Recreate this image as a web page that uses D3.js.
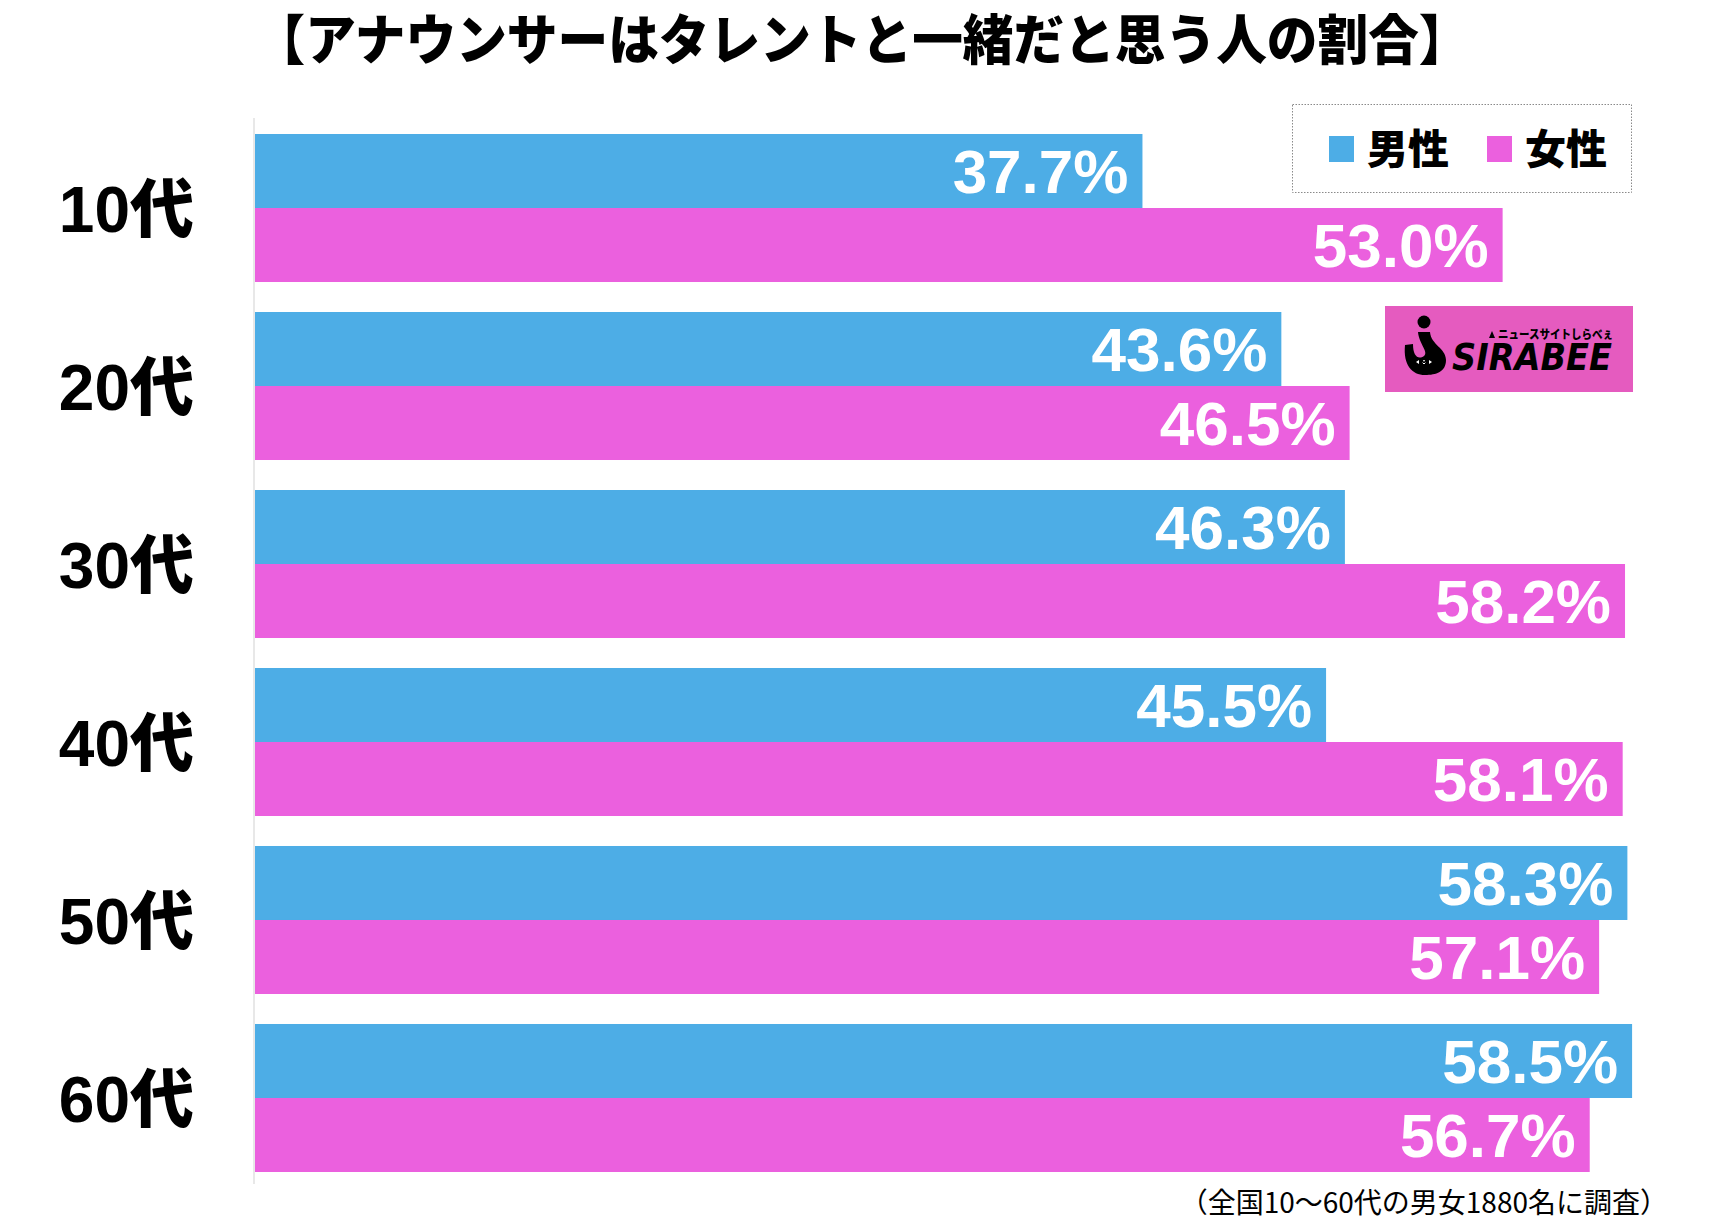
<!DOCTYPE html>
<html>
<head>
<meta charset="utf-8">
<script src="https://cdn.jsdelivr.net/npm/d3@7"></script>
<style>
  html, body { margin: 0; padding: 0; background: #fff; }
  svg { display: block; }
</style>
</head>
<body>
<svg id="chart" width="1716" height="1230"></svg>
<script>
const title = "【アナウンサーはタレントと一緒だと思う人の割合】";
const categories = ["10代", "20代", "30代", "40代", "50代", "60代"];
const seriesNames = ["男性", "女性"];
const male = [37.7, 43.6, 46.3, 45.5, 58.3, 58.5];
const female = [53.0, 46.5, 58.2, 58.1, 57.1, 56.7];
const footnote = "（全国10〜60代の男女1880名に調査）";

const colors = { "男性": "#4DADE6", "女性": "#EB60DE" };
const jp = "'Noto Sans CJK JP', 'Noto Sans', sans-serif";
const mixed = "'Liberation Sans', 'Noto Sans CJK JP', sans-serif";

const rows = categories.map((c, i) => ({ cat: c, values: [
  { s: "男性", v: male[i] }, { s: "女性", v: female[i] }
]}));

const svg = d3.select("#chart");

const x = d3.scaleLinear().domain([0, 60]).range([255, 255 + 60 * 23.54]);
const y = d3.scaleBand().domain(categories).range([119, 1187])
  .paddingInner(0.1685).paddingOuter(0.0843);
const ySub = d3.scaleBand().domain(seriesNames).range([0, y.bandwidth()]);

// title
svg.append("text")
  .attr("x", 862).attr("y", 60)
  .attr("text-anchor", "middle")
  .attr("font-family", jp).attr("font-weight", 900)
  .attr("font-size", 54).attr("fill", "#000")
  .attr("textLength", 1215).attr("lengthAdjust", "spacingAndGlyphs")
  .text(title);

// axis baseline
svg.append("line")
  .attr("x1", x(0) - 1).attr("x2", x(0) - 1)
  .attr("y1", 118).attr("y2", 1184)
  .attr("stroke", "#e8e8e8").attr("stroke-width", 2);

const g = svg.append("g").selectAll("g").data(rows).join("g")
  .attr("transform", d => `translate(0,${y(d.cat)})`);

g.selectAll("rect").data(d => d.values).join("rect")
  .attr("x", x(0))
  .attr("y", d => ySub(d.s))
  .attr("width", d => x(d.v) - x(0))
  .attr("height", ySub.bandwidth())
  .attr("fill", d => colors[d.s]);

g.selectAll("text.val").data(d => d.values).join("text")
  .attr("class", "val")
  .attr("x", d => x(d.v) - 14)
  .attr("y", d => ySub(d.s) + ySub.bandwidth() / 2 + 22)
  .attr("text-anchor", "end")
  .attr("font-family", "'Liberation Sans', Arial, sans-serif").attr("font-weight", 700)
  .attr("font-size", 62).attr("fill", "#fff")
  .text(d => d.v.toFixed(1) + "%");

// category labels
g.append("text")
  .attr("x", 194)
  .attr("y", y.bandwidth() / 2 + 24)
  .attr("text-anchor", "end")
  .attr("font-family", mixed).attr("font-weight", 900)
  .attr("font-size", 64).attr("fill", "#000")
  .text(d => d.cat);

// legend
const lg = svg.append("g");
lg.append("rect")
  .attr("x", 1292.5).attr("y", 104.5).attr("width", 339).attr("height", 88)
  .attr("fill", "#fff").attr("stroke", "#8a8a8a").attr("stroke-width", 1)
  .attr("stroke-dasharray", "1.5,1.5");
const legendX = [1329, 1487];
seriesNames.forEach((s, i) => {
  lg.append("rect")
    .attr("x", legendX[i]).attr("y", 136).attr("width", 25).attr("height", 26)
    .attr("fill", colors[s]);
  lg.append("text")
    .attr("x", legendX[i] + 38).attr("y", 164)
    .attr("font-family", jp).attr("font-weight", 900)
    .attr("font-size", 41).attr("fill", "#000")
    .text(s);
});

// logo
const logo = svg.append("g");
logo.append("rect")
  .attr("x", 1385).attr("y", 306).attr("width", 248).attr("height", 86)
  .attr("fill", "#E55BBF");
logo.append("circle").attr("cx", 1424).attr("cy", 322).attr("r", 6.5).attr("fill", "#000");
logo.append("path")
  .attr("d", "M1418,332 L1430,332 C1431,345 1446,348 1446,360 C1446,372 1436,375 1425,375 C1412,375 1403,365 1405,345 L1413,344 C1413,356 1418,360 1424,356 C1429,352 1419,344 1418,332 Z")
  .attr("fill", "#000");
logo.append("path")
  .attr("d", "M1416,362 L1419,360 L1419,364 Z M1432,362 L1429,360 L1429,364 Z M1422,362 L1425,360 L1425,364 Z M1426,362 L1423,360 L1423,364 Z")
  .attr("fill", "#fff");
logo.append("path")
  .attr("d", "M1489,338 L1492,331 L1495,338 Z").attr("fill", "#000");
logo.append("text")
  .attr("x", 1498).attr("y", 339)
  .attr("font-family", jp).attr("font-weight", 900)
  .attr("font-size", 12).attr("fill", "#000")
  .attr("textLength", 115).attr("lengthAdjust", "spacingAndGlyphs")
  .text("ニュースサイトしらべぇ");
logo.append("text")
  .attr("x", 1452).attr("y", 370)
  .attr("font-family", "'DejaVu Sans', sans-serif").attr("font-weight", 900)
  .attr("font-style", "italic")
  .attr("font-size", 38).attr("fill", "#000")
  .attr("textLength", 160).attr("lengthAdjust", "spacingAndGlyphs")
  .text("SIRABEE");

// footnote
svg.append("text")
  .attr("x", 1668).attr("y", 1213)
  .attr("text-anchor", "end")
  .attr("font-family", jp).attr("font-weight", 400)
  .attr("font-size", 28).attr("fill", "#000")
  .text(footnote);
</script>
</body>
</html>
